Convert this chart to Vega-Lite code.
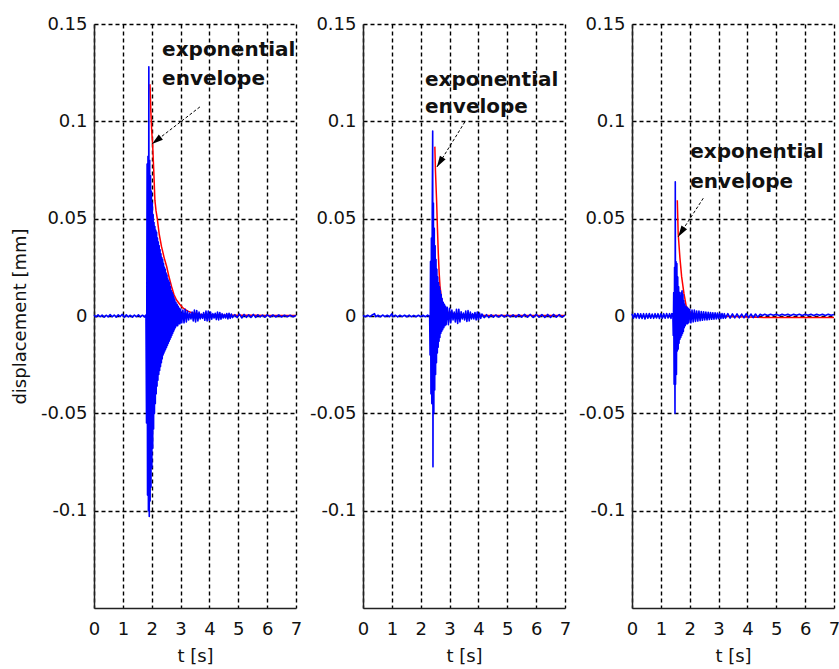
{
  "$schema": "https://vega.github.io/schema/vega-lite/v6.json",
  "padding": {"left": 11, "top": 15, "right": 0, "bottom": 0},
  "autosize": {"type": "pad"},
  "background": "white",
  "spacing": 67,
  "bounds": "flush",
  "config": {
    "font": "DejaVu Sans",
    "view": {"stroke": null},
    "axis": {
      "grid": true, "gridColor": "#000000", "gridDash": [4, 3], "gridWidth": 1.4, "gridOpacity": 1,
      "domainColor": "#222222", "domainWidth": 1.5, "ticks": false, "tickSize": 0,
      "labelFont": "DejaVu Sans", "labelFontSize": 18, "labelColor": "#111111",
      "labelFlush": false, "labelOverlap": false, "labelBound": false,
      "titleFont": "DejaVu Sans", "titleFontSize": 18, "titleFontWeight": "normal", "titleColor": "#111111"
    },
    "axisY": {"labelPadding": 7, "titlePadding": 11},
    "axisX": {"labelPadding": 12, "titlePadding": 9}
  },
  "datasets": {
    "sig1": [
      {"t":0.00,"d":0.0004},{"t":0.07,"d":-0.0005},{"t":0.14,"d":0.0006},{"t":0.21,"d":-0.0004},{"t":0.28,"d":0.0005},{"t":0.35,"d":-0.0006},{"t":0.42,"d":0.0004},{"t":0.49,"d":-0.0005},{"t":0.56,"d":0.0007},{"t":0.63,"d":-0.0004},{"t":0.70,"d":0.0005},{"t":0.77,"d":-0.0006},{"t":0.84,"d":0.0006},{"t":0.91,"d":-0.0003},{"t":0.98,"d":0.0009},{"t":1.05,"d":-0.0007},{"t":1.12,"d":0.0006},{"t":1.19,"d":-0.0005},{"t":1.26,"d":0.0004},{"t":1.33,"d":-0.0006},{"t":1.40,"d":0.0005},{"t":1.47,"d":-0.0004},{"t":1.54,"d":0.0006},{"t":1.61,"d":-0.0005},{"t":1.68,"d":0.0004},{"t":1.75,"d":-0.0005},{"t":1.80,"d":0.0005},
      {"t":1.82,"d":-0.055},{"t":1.84,"d":0.078},{"t":1.855,"d":-0.092},{"t":1.87,"d":0.082},{"t":1.885,"d":-0.1},{"t":1.9,"d":0.128},{"t":1.915,"d":-0.103},{"t":1.93,"d":0.08},{"t":1.945,"d":-0.095},{"t":1.96,"d":0.072},{"t":1.975,"d":-0.088},{"t":1.99,"d":0.064},{"t":2.005,"d":-0.078},{"t":2.02,"d":0.058},{"t":2.035,"d":-0.068},{"t":2.05,"d":0.052},{"t":2.065,"d":-0.058},{"t":2.08,"d":0.048},{"t":2.095,"d":-0.05},{"t":2.11,"d":0.046},{"t":2.125,"d":-0.045},{"t":2.14,"d":0.044},{"t":2.155,"d":-0.04},{"t":2.17,"d":0.043},{"t":2.185,"d":-0.036},{"t":2.2,"d":0.04},{"t":2.215,"d":-0.033},{"t":2.23,"d":0.038},{"t":2.245,"d":-0.03},{"t":2.26,"d":0.036},{"t":2.275,"d":-0.028},{"t":2.29,"d":0.034},{"t":2.305,"d":-0.026},{"t":2.32,"d":0.032},{"t":2.335,"d":-0.024},{"t":2.35,"d":0.03},{"t":2.365,"d":-0.022},{"t":2.38,"d":0.029},{"t":2.395,"d":-0.02},{"t":2.41,"d":0.027},{"t":2.425,"d":-0.019},{"t":2.44,"d":0.025},{"t":2.455,"d":-0.018},{"t":2.47,"d":0.024},{"t":2.485,"d":-0.017},{"t":2.5,"d":0.022},{"t":2.515,"d":-0.016},{"t":2.53,"d":0.021},{"t":2.545,"d":-0.015},{"t":2.56,"d":0.019},{"t":2.575,"d":-0.014},{"t":2.59,"d":0.018},{"t":2.605,"d":-0.013},{"t":2.62,"d":0.017},{"t":2.635,"d":-0.012},{"t":2.65,"d":0.015},{"t":2.665,"d":-0.011},{"t":2.68,"d":0.013},{"t":2.695,"d":-0.01},{"t":2.71,"d":0.012},{"t":2.725,"d":-0.009},{"t":2.74,"d":0.011},{"t":2.755,"d":-0.008},{"t":2.77,"d":0.0095},{"t":2.785,"d":-0.007},{"t":2.8,"d":0.0085},{"t":2.82,"d":-0.006},{"t":2.84,"d":0.007},{"t":2.86,"d":-0.005},{"t":2.88,"d":0.006},{"t":2.9,"d":-0.005},{"t":2.92,"d":0.005},{"t":2.94,"d":-0.004},{"t":2.96,"d":0.004},{"t":2.98,"d":-0.004},{"t":3.0,"d":0.0035},
      {"t":3.04,"d":-0.0035},{"t":3.08,"d":0.003},{"t":3.12,"d":-0.0035},{"t":3.16,"d":0.0035},{"t":3.2,"d":-0.003},{"t":3.24,"d":0.0025},{"t":3.28,"d":-0.002},{"t":3.32,"d":0.0015},{"t":3.36,"d":-0.0015},{"t":3.4,"d":0.002},{"t":3.44,"d":-0.0025},{"t":3.48,"d":0.003},{"t":3.52,"d":-0.003},{"t":3.56,"d":0.0028},{"t":3.6,"d":-0.0025},{"t":3.64,"d":0.002},{"t":3.68,"d":-0.0015},{"t":3.72,"d":0.001},{"t":3.76,"d":-0.0012},{"t":3.8,"d":0.0018},{"t":3.84,"d":-0.0022},{"t":3.88,"d":0.0025},{"t":3.92,"d":-0.0025},{"t":3.96,"d":0.0025},{"t":4.0,"d":-0.0022},{"t":4.04,"d":0.002},{"t":4.08,"d":-0.0016},{"t":4.12,"d":0.0012},{"t":4.16,"d":-0.001},{"t":4.2,"d":0.0014},{"t":4.24,"d":-0.0018},{"t":4.28,"d":0.002},{"t":4.32,"d":-0.002},{"t":4.36,"d":0.0018},{"t":4.4,"d":-0.0016},{"t":4.44,"d":0.0012},{"t":4.48,"d":-0.001},{"t":4.52,"d":0.0008},{"t":4.56,"d":-0.001},{"t":4.6,"d":0.0013},{"t":4.64,"d":-0.0015},{"t":4.68,"d":0.0014},{"t":4.72,"d":-0.0012},{"t":4.76,"d":0.001},{"t":4.8,"d":-0.0008},{"t":4.88,"d":0.0007},{"t":4.96,"d":-0.0008},{"t":5.04,"d":0.001},{"t":5.12,"d":-0.001},{"t":5.2,"d":0.0008},{"t":5.28,"d":-0.0007},{"t":5.36,"d":0.0006},{"t":5.44,"d":-0.0007},{"t":5.52,"d":0.0008},{"t":5.6,"d":-0.0007},{"t":5.68,"d":0.0006},{"t":5.76,"d":-0.0005},{"t":5.84,"d":0.0005},{"t":5.92,"d":-0.0006},{"t":6.0,"d":0.0006},{"t":6.1,"d":-0.0005},{"t":6.2,"d":0.0005},{"t":6.3,"d":-0.0005},{"t":6.4,"d":0.0005},{"t":6.5,"d":-0.0005},{"t":6.6,"d":0.0004},{"t":6.7,"d":-0.0004},{"t":6.8,"d":0.0004},{"t":6.9,"d":-0.0004},{"t":7.0,"d":0.0003}
    ],
    "env1": [
      {"t":1.94,"d":0.119},{"t":1.97,"d":0.105},{"t":2.0,"d":0.095},{"t":2.03,"d":0.0886},{"t":2.07,"d":0.075},{"t":2.11,"d":0.0595},{"t":2.15,"d":0.054},{"t":2.19,"d":0.0503},{"t":2.26,"d":0.042},{"t":2.34,"d":0.0356},{"t":2.43,"d":0.03},{"t":2.52,"d":0.0253},{"t":2.6,"d":0.02},{"t":2.69,"d":0.015},{"t":2.77,"d":0.011},{"t":2.86,"d":0.0082},{"t":2.97,"d":0.006},{"t":3.09,"d":0.004},{"t":3.25,"d":0.0025},{"t":3.43,"d":0.0015},{"t":3.7,"d":0.0008},{"t":4.2,"d":0.0005},{"t":5.0,"d":0.0004},{"t":6.0,"d":0.0003},{"t":7.0,"d":0.0003}
    ],
    "arr1": [{"t":3.67,"d":0.1074,"t2":2.01,"d2":0.0884}],
    "head1": [{"t":2.01,"d":0.0884}],
    "txt1": [{"t":2.36,"d":0.1366,"label":"exponential"},{"t":2.36,"d":0.1217,"label":"envelope"}],
    "sig2": [
      {"t":0.00,"d":0.0003},{"t":0.08,"d":-0.0004},{"t":0.16,"d":0.0004},{"t":0.24,"d":-0.0003},{"t":0.32,"d":0.0005},{"t":0.4,"d":0.0012},{"t":0.44,"d":-0.0004},{"t":0.52,"d":0.0004},{"t":0.6,"d":-0.0004},{"t":0.68,"d":0.0005},{"t":0.76,"d":-0.0003},{"t":0.84,"d":0.0004},{"t":0.92,"d":-0.0004},{"t":1.0,"d":0.0011},{"t":1.04,"d":-0.0003},{"t":1.12,"d":0.0004},{"t":1.2,"d":-0.0005},{"t":1.28,"d":0.0004},{"t":1.36,"d":-0.0003},{"t":1.44,"d":0.0004},{"t":1.52,"d":-0.0004},{"t":1.6,"d":0.0005},{"t":1.68,"d":-0.0004},{"t":1.76,"d":0.0003},{"t":1.84,"d":-0.0004},{"t":1.92,"d":0.0004},{"t":2.0,"d":-0.0003},{"t":2.08,"d":0.0004},{"t":2.16,"d":-0.0004},{"t":2.24,"d":0.0005},{"t":2.31,"d":-0.0003},
      {"t":2.325,"d":-0.02},{"t":2.34,"d":0.028},{"t":2.355,"d":-0.04},{"t":2.37,"d":0.04},{"t":2.385,"d":-0.045},{"t":2.4,"d":0.055},{"t":2.415,"d":0.095},{"t":2.425,"d":-0.0775},{"t":2.44,"d":0.058},{"t":2.455,"d":-0.05},{"t":2.47,"d":0.045},{"t":2.485,"d":-0.038},{"t":2.5,"d":0.036},{"t":2.515,"d":-0.03},{"t":2.53,"d":0.029},{"t":2.545,"d":-0.024},{"t":2.56,"d":0.024},{"t":2.575,"d":-0.019},{"t":2.59,"d":0.02},{"t":2.605,"d":-0.016},{"t":2.62,"d":0.017},{"t":2.635,"d":-0.013},{"t":2.65,"d":0.015},{"t":2.665,"d":-0.011},{"t":2.68,"d":0.013},{"t":2.695,"d":-0.009},{"t":2.71,"d":0.011},{"t":2.725,"d":-0.008},{"t":2.74,"d":0.009},{"t":2.76,"d":-0.007},{"t":2.78,"d":0.007},{"t":2.8,"d":-0.006},{"t":2.82,"d":0.006},{"t":2.84,"d":-0.005},{"t":2.86,"d":0.005},{"t":2.88,"d":-0.0045},{"t":2.92,"d":0.0045},{"t":2.96,"d":-0.0045},{"t":3.0,"d":0.004},{"t":3.04,"d":-0.0035},{"t":3.08,"d":0.003},{"t":3.12,"d":-0.002},{"t":3.16,"d":0.002},{"t":3.2,"d":-0.003},{"t":3.24,"d":0.0035},{"t":3.28,"d":-0.0038},{"t":3.32,"d":0.0035},{"t":3.36,"d":-0.003},{"t":3.4,"d":0.0022},{"t":3.44,"d":-0.0015},{"t":3.48,"d":0.0015},{"t":3.52,"d":-0.002},{"t":3.56,"d":0.0025},{"t":3.6,"d":-0.0028},{"t":3.64,"d":0.0028},{"t":3.68,"d":-0.0025},{"t":3.72,"d":0.002},{"t":3.76,"d":-0.0015},{"t":3.8,"d":0.0012},{"t":3.84,"d":-0.0015},{"t":3.88,"d":0.0018},{"t":3.92,"d":-0.002},{"t":3.96,"d":0.002},{"t":4.0,"d":-0.0018},{"t":4.04,"d":0.0015},{"t":4.08,"d":-0.0012},{"t":4.12,"d":0.001},{"t":4.2,"d":-0.0008},{"t":4.28,"d":0.0007},{"t":4.36,"d":-0.0008},{"t":4.44,"d":0.0006},{"t":4.52,"d":-0.0006},{"t":4.6,"d":0.0005},{"t":4.7,"d":-0.0005},{"t":4.8,"d":0.0005},{"t":4.9,"d":-0.0005},{"t":5.0,"d":0.0006},{"t":5.1,"d":-0.0005},{"t":5.2,"d":0.0006},{"t":5.3,"d":-0.0006},{"t":5.4,"d":0.0007},{"t":5.5,"d":-0.0006},{"t":5.6,"d":0.0008},{"t":5.7,"d":-0.0006},{"t":5.8,"d":0.0008},{"t":5.9,"d":-0.0007},{"t":6.0,"d":0.0008},{"t":6.1,"d":-0.0006},{"t":6.2,"d":0.0007},{"t":6.3,"d":-0.0007},{"t":6.4,"d":0.0008},{"t":6.5,"d":-0.0007},{"t":6.6,"d":0.0008},{"t":6.7,"d":-0.0006},{"t":6.8,"d":0.0007},{"t":6.9,"d":-0.0006},{"t":7.0,"d":0.0005}
    ],
    "env2": [
      {"t":2.49,"d":0.087},{"t":2.51,"d":0.075},{"t":2.55,"d":0.0595},{"t":2.58,"d":0.045},{"t":2.61,"d":0.032},{"t":2.64,"d":0.022},{"t":2.67,"d":0.015},{"t":2.72,"d":0.009},{"t":2.78,"d":0.0048},{"t":2.88,"d":0.0025},{"t":3.0,"d":0.0015},{"t":3.3,"d":0.0008},{"t":4.0,"d":0.0004},{"t":5.0,"d":0.0003},{"t":7.0,"d":0.0002}
    ],
    "arr2": [{"t":3.53,"d":0.0997,"t2":2.56,"d2":0.0765}],
    "head2": [{"t":2.56,"d":0.0765}],
    "txt2": [{"t":2.15,"d":0.1212,"label":"exponential"},{"t":2.15,"d":0.1074,"label":"envelope"}],
    "sig3": [
      {"t":0.00,"d":0.0012},{"t":0.05,"d":-0.0011},{"t":0.10,"d":0.0013},{"t":0.15,"d":-0.001},{"t":0.20,"d":0.0013},{"t":0.25,"d":-0.0012},{"t":0.30,"d":0.0011},{"t":0.35,"d":-0.0013},{"t":0.40,"d":0.0012},{"t":0.45,"d":-0.0015},{"t":0.50,"d":0.0012},{"t":0.55,"d":-0.0011},{"t":0.60,"d":0.0013},{"t":0.65,"d":-0.0011},{"t":0.70,"d":0.001},{"t":0.75,"d":-0.0012},{"t":0.80,"d":0.0012},{"t":0.85,"d":-0.001},{"t":0.90,"d":0.0012},{"t":0.95,"d":-0.0013},{"t":1.00,"d":0.0011},{"t":1.05,"d":-0.0012},{"t":1.10,"d":0.0012},{"t":1.15,"d":-0.0011},{"t":1.20,"d":0.0013},{"t":1.25,"d":-0.001},{"t":1.30,"d":0.0012},{"t":1.35,"d":-0.0012},{"t":1.38,"d":0.0012},
      {"t":1.415,"d":0.001},{"t":1.43,"d":-0.01},{"t":1.445,"d":0.012},{"t":1.46,"d":-0.035},{"t":1.475,"d":0.025},{"t":1.49,"d":-0.05},{"t":1.5,"d":0.069},{"t":1.51,"d":-0.035},{"t":1.525,"d":0.028},{"t":1.54,"d":-0.03},{"t":1.555,"d":0.027},{"t":1.57,"d":-0.018},{"t":1.585,"d":0.02},{"t":1.6,"d":-0.017},{"t":1.615,"d":0.015},{"t":1.63,"d":-0.014},{"t":1.645,"d":0.012},{"t":1.66,"d":-0.012},{"t":1.675,"d":0.01},{"t":1.69,"d":-0.011},{"t":1.705,"d":0.012},{"t":1.72,"d":-0.01},{"t":1.735,"d":0.013},{"t":1.75,"d":-0.009},{"t":1.765,"d":0.011},{"t":1.78,"d":-0.008},{"t":1.795,"d":0.008},{"t":1.81,"d":-0.006},{"t":1.825,"d":0.006},{"t":1.845,"d":-0.005},{"t":1.865,"d":0.005},{"t":1.885,"d":-0.004},{"t":1.905,"d":0.0045},{"t":1.925,"d":-0.004},{"t":1.945,"d":0.004},{"t":1.965,"d":-0.0035},{"t":2.0,"d":0.0035},{"t":2.04,"d":-0.0035},{"t":2.08,"d":0.003},{"t":2.12,"d":-0.003},{"t":2.16,"d":0.003},{"t":2.2,"d":-0.0028},{"t":2.24,"d":0.0026},{"t":2.28,"d":-0.0026},{"t":2.32,"d":0.0025},{"t":2.36,"d":-0.0024},{"t":2.4,"d":0.0023},{"t":2.44,"d":-0.0022},{"t":2.48,"d":0.0022},{"t":2.52,"d":-0.002},{"t":2.56,"d":0.002},{"t":2.6,"d":-0.002},{"t":2.64,"d":0.0019},{"t":2.68,"d":-0.0018},{"t":2.72,"d":0.0018},{"t":2.76,"d":-0.0017},{"t":2.8,"d":0.0017},{"t":2.84,"d":-0.0016},{"t":2.88,"d":0.0016},{"t":2.92,"d":-0.0015},{"t":2.96,"d":0.0015},{"t":3.0,"d":-0.0014},{"t":3.04,"d":0.0014},{"t":3.08,"d":-0.0013},{"t":3.12,"d":0.0013},{"t":3.16,"d":-0.0012},{"t":3.2,"d":0.0012},{"t":3.24,"d":-0.0011},{"t":3.32,"d":0.0012},{"t":3.4,"d":-0.0011},{"t":3.48,"d":0.0011},{"t":3.56,"d":-0.001},{"t":3.64,"d":0.0011},{"t":3.72,"d":-0.001},{"t":3.8,"d":0.001},{"t":3.88,"d":-0.0009},{"t":3.96,"d":0.0012},{"t":4.04,"d":-0.0009},{"t":4.12,"d":0.001},{"t":4.2,"d":-0.0008},{"t":4.28,"d":0.001},{"t":4.36,"d":-0.0006},{"t":4.44,"d":0.0009},{"t":4.52,"d":0.0003},{"t":4.6,"d":0.0009},{"t":4.7,"d":0.0003},{"t":4.8,"d":0.0009},{"t":4.9,"d":0.0004},{"t":5.0,"d":0.0009},{"t":5.1,"d":0.0003},{"t":5.2,"d":0.0009},{"t":5.3,"d":0.0004},{"t":5.4,"d":0.0009},{"t":5.5,"d":0.0003},{"t":5.6,"d":0.0009},{"t":5.7,"d":0.0004},{"t":5.8,"d":0.0009},{"t":5.9,"d":0.0003},{"t":6.0,"d":0.0009},{"t":6.1,"d":0.0004},{"t":6.2,"d":0.0009},{"t":6.3,"d":0.0003},{"t":6.4,"d":0.0009},{"t":6.5,"d":0.0004},{"t":6.6,"d":0.0009},{"t":6.7,"d":0.0003},{"t":6.8,"d":0.0009},{"t":6.9,"d":0.0004},{"t":7.0,"d":0.0008}
    ],
    "env3": [
      {"t":1.57,"d":0.0595},{"t":1.6,"d":0.0424},{"t":1.66,"d":0.03},{"t":1.72,"d":0.0202},{"t":1.8,"d":0.0116},{"t":1.88,"d":0.005},{"t":2.03,"d":0.0015},{"t":2.5,"d":0.0},{"t":3.5,"d":-0.0003},{"t":4.3,"d":-0.0007},{"t":7.0,"d":-0.0008}
    ],
    "arr3": [{"t":2.47,"d":0.0605,"t2":1.6,"d2":0.0407}],
    "head3": [{"t":1.6,"d":0.0407}],
    "txt3": [{"t":2.02,"d":0.0842,"label":"exponential"},{"t":2.02,"d":0.0688,"label":"envelope"}]
  },
  "hconcat": [
    {
      "width": 202, "height": 584,
      "encoding": {
        "x": {"field": "t", "type": "quantitative", "scale": {"domain": [0, 7], "nice": false, "zero": false}, "axis": {"values": [0,1,2,3,4,5,6,7], "title": "t [s]", "labelExpr": "'' + datum.value"}},
        "y": {"field": "d", "type": "quantitative", "scale": {"domain": [-0.15, 0.15], "nice": false, "zero": false}, "axis": {"values": [-0.1,-0.05,0,0.05,0.1,0.15], "title": "displacement [mm]", "labelExpr": "'' + datum.value"}}
      },
      "layer": [
        {"data": {"name": "env1"}, "mark": {"type": "line", "color": "#ff0000", "strokeWidth": 1.5, "strokeJoin": "round"}},
        {"data": {"name": "sig1"}, "mark": {"type": "line", "color": "#0000ff", "strokeWidth": 1.6, "strokeJoin": "round"}},
        {"data": {"name": "arr1"}, "mark": {"type": "rule", "color": "#000000", "strokeWidth": 1, "strokeDash": [3, 2]}, "encoding": {"x2": {"field": "t2"}, "y2": {"field": "d2"}}},
        {"data": {"name": "head1"}, "mark": {"type": "point", "shape": "M0,0L-0.3,1L0.3,1Z", "filled": true, "color": "#000000", "opacity": 1, "size": 500, "angle": 232.4}},
        {"data": {"name": "txt1"}, "mark": {"type": "text", "align": "left", "baseline": "middle", "font": "DejaVu Sans", "fontWeight": "bold", "fontSize": 20, "color": "#111111"}, "encoding": {"text": {"field": "label"}}}
      ]
    },
    {
      "width": 202, "height": 584,
      "encoding": {
        "x": {"field": "t", "type": "quantitative", "scale": {"domain": [0, 7], "nice": false, "zero": false}, "axis": {"values": [0,1,2,3,4,5,6,7], "title": "t [s]", "labelExpr": "'' + datum.value"}},
        "y": {"field": "d", "type": "quantitative", "scale": {"domain": [-0.15, 0.15], "nice": false, "zero": false}, "axis": {"values": [-0.1,-0.05,0,0.05,0.1,0.15], "title": null, "labelExpr": "'' + datum.value"}}
      },
      "layer": [
        {"data": {"name": "env2"}, "mark": {"type": "line", "color": "#ff0000", "strokeWidth": 1.5, "strokeJoin": "round"}},
        {"data": {"name": "sig2"}, "mark": {"type": "line", "color": "#0000ff", "strokeWidth": 1.6, "strokeJoin": "round"}},
        {"data": {"name": "arr2"}, "mark": {"type": "rule", "color": "#000000", "strokeWidth": 1, "strokeDash": [3, 2]}, "encoding": {"x2": {"field": "t2"}, "y2": {"field": "d2"}}},
        {"data": {"name": "head2"}, "mark": {"type": "point", "shape": "M0,0L-0.3,1L0.3,1Z", "filled": true, "color": "#000000", "opacity": 1, "size": 500, "angle": 211.9}},
        {"data": {"name": "txt2"}, "mark": {"type": "text", "align": "left", "baseline": "middle", "font": "DejaVu Sans", "fontWeight": "bold", "fontSize": 20, "color": "#111111"}, "encoding": {"text": {"field": "label"}}}
      ]
    },
    {
      "width": 202, "height": 584,
      "encoding": {
        "x": {"field": "t", "type": "quantitative", "scale": {"domain": [0, 7], "nice": false, "zero": false}, "axis": {"values": [0,1,2,3,4,5,6,7], "title": "t [s]", "labelExpr": "'' + datum.value"}},
        "y": {"field": "d", "type": "quantitative", "scale": {"domain": [-0.15, 0.15], "nice": false, "zero": false}, "axis": {"values": [-0.1,-0.05,0,0.05,0.1,0.15], "title": null, "labelExpr": "'' + datum.value"}}
      },
      "layer": [
        {"data": {"name": "env3"}, "mark": {"type": "line", "color": "#ff0000", "strokeWidth": 1.5, "strokeJoin": "round"}},
        {"data": {"name": "sig3"}, "mark": {"type": "line", "color": "#0000ff", "strokeWidth": 1.6, "strokeJoin": "round"}},
        {"data": {"name": "arr3"}, "mark": {"type": "rule", "color": "#000000", "strokeWidth": 1, "strokeDash": [3, 2]}, "encoding": {"x2": {"field": "t2"}, "y2": {"field": "d2"}}},
        {"data": {"name": "head3"}, "mark": {"type": "point", "shape": "M0,0L-0.3,1L0.3,1Z", "filled": true, "color": "#000000", "opacity": 1, "size": 500, "angle": 213.1}},
        {"data": {"name": "txt3"}, "mark": {"type": "text", "align": "left", "baseline": "middle", "font": "DejaVu Sans", "fontWeight": "bold", "fontSize": 20, "color": "#111111"}, "encoding": {"text": {"field": "label"}}}
      ]
    }
  ]
}
